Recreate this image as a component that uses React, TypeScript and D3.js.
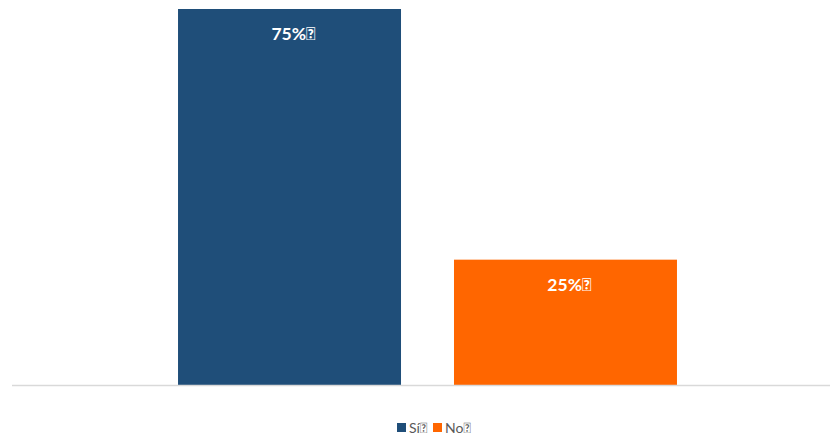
import React from "react";
import * as d3 from "d3";

const categories = ["Sí", "No"];
const values = [0.75, 0.25];
const colors = ["#1F4E79", "#FF6600"];
const labelSuffix = "\uE000";

const W = 830;
const H = 439;

export default function App() {
  const x = d3.scaleBand<string>().domain(categories).range([25, 830]).paddingInner(0.192).paddingOuter(0.5545);
  const y = d3.scaleLinear().domain([0, 0.75]).range([385, 9]);
  const fmt = d3.format(".0%");
  const font = "Lato, 'Open Sans', 'DejaVu Sans', sans-serif";
  const legendX = [397, 433];
  return (
    <svg width={W} height={H} style={{ position: "absolute", left: 0, top: 0, background: "#fff" }}>
      {categories.map((c, i) => (
        <rect key={c} x={x(c)} y={y(values[i])} width={x.bandwidth()} height={y(0) - y(values[i])} fill={colors[i]} />
      ))}
      <line x1={12} x2={830} y1={385.5} y2={385.5} stroke="#d9d9d9" strokeWidth={1.5} />
      {categories.map((c, i) => (
        <text key={c} x={(x(c) as number) + x.bandwidth() / 2 + 4} y={y(values[i]) + 31} textAnchor="middle" fill="#fff" fontFamily={font} fontWeight="bold" fontSize={17.5}>
          {fmt(values[i]) + labelSuffix}
        </text>
      ))}
      {categories.map((c, i) => (
        <g key={c} transform={`translate(${legendX[i]},423)`}>
          <rect x={0} y={0} width={9} height={9} fill={colors[i]} />
          <text x={12} y={10} fill="#595959" fontFamily={font} fontSize={14}>
            {c + labelSuffix}
          </text>
        </g>
      ))}
    </svg>
  );
}
